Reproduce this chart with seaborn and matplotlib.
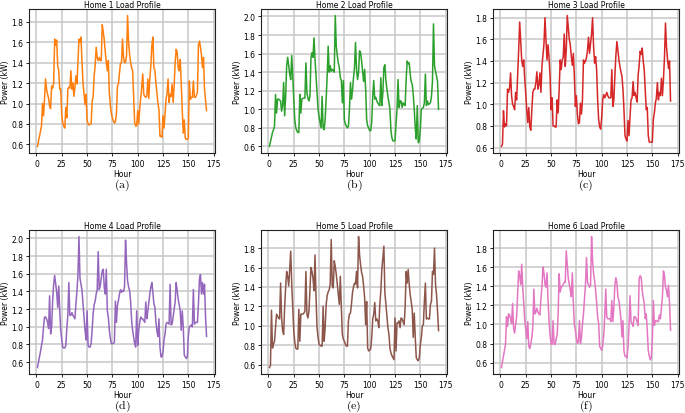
import numpy as np
import matplotlib
matplotlib.use("Agg")
import matplotlib.pyplot as plt
import seaborn as sns
from matplotlib.ticker import MultipleLocator

# hourly load (kW), one week
hours = np.arange(1, 169)

home1 = [
    0.58, 0.63, 0.68, 0.73, 0.78, 1.00, 0.88, 1.05, 1.24, 1.14, 1.09, 1.05,
    0.97, 0.95, 1.17, 1.15, 1.20, 1.63, 1.57, 1.62, 1.37, 1.32, 1.14, 1.14,
    0.88, 0.81, 0.78, 0.76, 0.96, 0.86, 1.14, 1.16, 1.15, 1.32, 1.14, 1.20,
    1.07, 1.16, 1.27, 1.19, 1.42, 1.63, 1.60, 1.65, 1.40, 1.20, 1.10, 0.99,
    1.09, 0.84, 0.80, 0.79, 0.80, 0.80, 1.02, 1.07, 1.27, 1.37, 1.55, 1.45,
    1.42, 1.45, 1.42, 1.42, 1.77, 1.70, 1.62, 1.50, 1.40, 1.32, 1.42, 1.10,
    0.98, 0.90, 0.86, 0.83, 0.81, 0.82, 0.90, 1.17, 1.19, 1.30, 1.39, 1.40,
    1.63, 1.45, 1.40, 1.40, 1.47, 1.86, 1.60, 1.48, 1.40, 1.35, 1.32, 1.07,
    0.81, 0.78, 0.78, 0.93, 0.80, 0.95, 1.05, 1.16, 1.29, 1.09, 1.07, 1.06,
    1.07, 1.24, 1.05, 1.25, 1.37, 1.57, 1.65, 1.35, 1.32, 1.20, 1.10, 1.00,
    0.94, 0.68, 0.68, 0.67, 0.88, 0.76, 0.90, 1.04, 1.10, 1.24, 1.01, 1.09,
    1.07, 1.19, 1.01, 1.17, 1.40, 1.53, 1.50, 1.35, 1.32, 1.43, 1.20, 0.94,
    0.71, 0.84, 0.66, 0.65, 0.65, 0.66, 1.22, 1.04, 1.06, 1.06, 1.22, 1.06,
    1.06, 1.08, 1.11, 1.57, 1.61, 1.55, 1.47, 1.35, 1.45, 1.14, 1.04, 0.93,
]
home2 = [
    0.60, 0.65, 0.70, 0.75, 0.78, 0.82, 1.16, 0.96, 1.11, 1.11, 1.10, 1.09,
    0.98, 1.04, 1.29, 0.93, 1.14, 1.47, 1.56, 1.47, 1.38, 1.32, 1.58, 1.36,
    1.11, 0.89, 0.80, 0.77, 0.75, 0.75, 1.16, 0.96, 1.11, 1.12, 1.12, 1.12,
    1.50, 1.18, 1.12, 1.09, 1.14, 1.56, 1.61, 1.56, 1.77, 1.54, 1.36, 1.18,
    1.00, 0.92, 0.86, 0.80, 1.14, 0.80, 0.78, 0.89, 1.11, 1.36, 1.68, 1.40,
    1.47, 1.41, 1.43, 1.42, 1.40, 2.01, 1.68, 1.58, 1.50, 1.45, 1.34, 1.31,
    1.07, 1.31, 0.89, 0.84, 0.82, 0.80, 0.82, 1.00, 1.29, 1.11, 1.20, 1.34,
    1.45, 1.72, 1.43, 1.32, 1.40, 1.63, 1.61, 1.52, 1.41, 1.30, 1.43, 1.22,
    0.89, 0.82, 0.80, 0.77, 0.77, 0.86, 1.14, 1.31, 1.11, 1.13, 1.09, 1.07,
    1.05, 1.04, 1.34, 1.04, 1.18, 1.45, 1.48, 1.31, 1.22, 1.14, 1.07, 1.00,
    0.77, 0.69, 0.66, 0.66, 0.66, 0.84, 1.00, 1.32, 1.02, 1.09, 1.09, 1.02,
    1.07, 1.05, 1.04, 1.32, 1.52, 1.49, 1.50, 1.38, 1.30, 1.27, 1.16, 1.00,
    0.80, 0.68, 1.04, 0.64, 0.66, 0.78, 1.00, 1.01, 1.02, 1.07, 1.38, 1.04,
    1.09, 1.05, 1.06, 1.07, 1.14, 1.30, 1.92, 1.47, 1.41, 1.36, 1.30, 1.00,
]
home3 = [
    0.61, 0.63, 0.94, 0.79, 0.82, 0.80, 1.14, 1.11, 1.15, 1.29, 1.08, 1.00,
    0.98, 0.95, 1.11, 1.04, 1.26, 1.50, 1.76, 1.59, 1.41, 1.35, 1.41, 1.23,
    1.10, 0.95, 0.83, 0.97, 0.79, 0.76, 0.95, 1.11, 1.14, 1.14, 1.20, 1.30,
    1.14, 1.18, 1.29, 1.11, 1.35, 1.45, 1.56, 1.80, 1.59, 1.41, 1.55, 1.43,
    1.26, 0.95, 1.06, 0.80, 0.80, 0.79, 0.79, 1.04, 0.92, 1.14, 1.41, 1.32,
    1.41, 1.43, 1.65, 1.35, 1.50, 1.82, 1.71, 1.60, 1.55, 1.44, 1.36, 1.47,
    1.26, 0.98, 1.08, 0.91, 0.82, 0.83, 1.01, 0.91, 1.04, 1.41, 1.38, 1.40,
    1.43, 1.50, 1.62, 1.47, 1.56, 1.65, 1.80, 1.53, 1.38, 1.44, 1.32, 1.04,
    0.86, 0.79, 0.77, 0.88, 1.04, 1.09, 1.06, 1.08, 1.11, 1.08, 1.06, 1.06,
    1.06, 1.32, 0.98, 1.04, 1.26, 1.45, 1.58, 1.50, 1.41, 1.35, 1.30, 1.26,
    1.14, 0.95, 0.71, 0.68, 0.66, 0.85, 0.71, 0.89, 1.04, 1.06, 1.21, 1.08,
    1.11, 1.06, 1.02, 1.27, 1.36, 1.49, 1.46, 1.52, 1.40, 1.32, 1.14, 0.95,
    0.97, 0.71, 0.65, 0.65, 0.65, 0.65, 0.86, 0.92, 1.01, 1.06, 1.20, 1.04,
    1.11, 1.08, 1.24, 1.08, 1.23, 1.43, 1.75, 1.53, 1.42, 1.33, 1.40, 1.03,
]
home4 = [
    0.54, 0.60, 0.66, 0.72, 0.79, 0.85, 1.00, 1.11, 1.11, 1.09, 1.05, 0.98,
    1.35, 0.92, 1.00, 1.29, 1.48, 1.58, 1.48, 1.39, 1.22, 1.46, 1.18, 0.96,
    0.85, 0.77, 0.76, 0.76, 0.79, 0.98, 1.13, 1.50, 1.13, 1.13, 1.16, 1.13,
    1.11, 1.09, 1.26, 1.40, 1.59, 2.02, 1.55, 1.48, 1.41, 1.26, 1.11, 0.96,
    0.85, 1.18, 0.79, 0.77, 0.77, 0.81, 0.96, 1.15, 1.25, 1.29, 1.37, 1.42,
    1.85, 1.42, 1.46, 1.55, 1.63, 1.65, 1.44, 1.37, 1.65, 1.18, 1.11, 0.96,
    0.87, 0.81, 0.81, 0.81, 0.83, 1.29, 1.05, 1.24, 1.30, 1.37, 1.42, 1.39,
    1.41, 1.40, 1.45, 1.98, 1.72, 1.52, 1.45, 1.41, 1.29, 1.07, 0.96, 0.88,
    0.81, 0.77, 1.18, 0.79, 0.96, 1.05, 1.11, 1.09, 1.09, 1.07, 1.05, 1.28,
    1.09, 1.18, 1.28, 1.37, 1.45, 1.50, 1.39, 1.26, 1.22, 1.05, 0.95, 0.89,
    1.09, 0.77, 0.66, 0.66, 0.72, 0.85, 0.92, 1.03, 1.05, 1.04, 1.03, 1.48,
    1.02, 1.03, 1.11, 1.20, 1.28, 1.50, 1.41, 1.31, 1.25, 1.18, 0.96, 1.18,
    1.00, 0.68, 0.66, 0.64, 0.66, 0.89, 1.00, 1.01, 1.02, 1.00, 1.42, 1.03,
    1.05, 1.05, 1.05, 1.26, 1.54, 1.59, 1.37, 1.50, 1.37, 1.48, 1.11, 0.89,
]
home5 = [
    0.57, 0.59, 1.16, 0.77, 0.81, 0.84, 0.98, 1.12, 1.10, 1.08, 1.07, 1.44,
    1.08, 0.95, 0.91, 1.19, 1.40, 1.56, 1.51, 1.41, 1.58, 1.77, 1.43, 1.19,
    0.95, 0.83, 0.77, 0.76, 0.76, 1.17, 0.84, 1.12, 1.12, 1.12, 1.13, 1.15,
    1.56, 1.12, 1.08, 1.15, 1.37, 1.60, 1.56, 1.49, 1.36, 1.73, 1.29, 0.98,
    0.88, 0.81, 0.80, 0.79, 0.79, 1.20, 0.84, 0.98, 1.22, 1.31, 1.35, 1.37,
    1.43, 1.89, 1.41, 1.39, 1.67, 1.61, 1.53, 1.43, 1.32, 1.22, 1.51, 1.19,
    0.91, 0.86, 0.84, 0.81, 0.79, 0.79, 1.05, 1.12, 1.13, 1.22, 1.34, 1.40,
    1.44, 1.43, 1.56, 1.39, 1.92, 1.73, 1.63, 1.55, 1.51, 1.41, 1.29, 1.01,
    1.25, 0.77, 0.74, 0.75, 0.76, 0.88, 1.07, 1.12, 1.24, 1.05, 1.07, 1.05,
    0.98, 1.22, 1.36, 1.58, 1.70, 1.82, 1.34, 1.22, 1.10, 0.98, 0.91, 0.77,
    0.72, 0.69, 0.67, 0.65, 1.08, 0.74, 1.03, 1.03, 1.05, 0.98, 1.08, 1.07,
    1.04, 1.01, 1.19, 1.56, 1.44, 1.58, 1.43, 1.32, 1.25, 1.17, 0.88, 1.13,
    0.88, 0.67, 0.65, 0.64, 0.67, 0.80, 0.88, 1.00, 1.01, 1.25, 1.44, 1.07,
    1.08, 1.07, 1.07, 1.22, 1.25, 1.56, 1.53, 1.80, 1.43, 1.32, 1.15, 0.95,
]
home6 = [
    0.55, 0.61, 0.67, 0.73, 0.79, 1.08, 0.98, 1.11, 1.10, 1.06, 1.01, 1.22,
    0.96, 0.91, 1.00, 1.08, 1.32, 1.56, 1.51, 1.42, 1.63, 1.39, 1.22, 1.05,
    0.95, 0.85, 1.03, 0.77, 0.75, 0.80, 0.86, 0.98, 1.37, 1.11, 1.13, 1.17,
    1.13, 1.11, 1.10, 1.27, 1.39, 1.60, 1.54, 1.42, 1.39, 1.54, 1.25, 1.04,
    0.89, 0.80, 0.79, 1.04, 0.80, 0.79, 0.85, 0.89, 1.11, 1.53, 1.34, 1.39,
    1.40, 1.42, 1.44, 1.44, 1.77, 1.63, 1.48, 1.42, 1.36, 1.29, 1.54, 1.22,
    1.00, 0.94, 0.86, 0.80, 0.82, 1.04, 0.80, 0.86, 1.00, 1.11, 1.27, 1.42,
    1.70, 1.44, 1.42, 1.39, 1.41, 1.92, 1.67, 1.53, 1.46, 1.36, 1.22, 1.08,
    1.01, 0.77, 0.75, 0.73, 0.77, 0.89, 1.08, 1.37, 1.08, 1.06, 1.06, 1.06,
    1.03, 1.25, 1.03, 1.17, 1.41, 1.49, 1.44, 1.29, 1.25, 1.15, 1.06, 0.87,
    1.04, 0.72, 0.67, 0.66, 0.65, 0.77, 0.98, 1.30, 1.03, 1.01, 0.98, 1.08,
    1.08, 1.06, 1.03, 0.99, 1.48, 1.51, 1.49, 1.36, 1.28, 1.22, 1.06, 1.11,
    0.94, 0.73, 0.67, 0.63, 0.65, 0.84, 1.25, 0.99, 1.04, 1.04, 1.03, 1.03,
    1.10, 1.06, 1.18, 1.29, 1.56, 1.51, 1.39, 1.36, 1.29, 1.41, 1.22, 0.94,
]

profiles = [home1, home2, home3, home4, home5, home6]
titles = [f"Home {i} Load Profile" for i in range(1, 7)]
captions = ["(a)", "(b)", "(c)", "(d)", "(e)", "(f)"]
colors = ["tab:orange", "tab:green", "tab:red", "tab:purple", "tab:brown", "tab:pink"]

for p in profiles:
    assert len(p) == len(hours)

plt.rcParams["mathtext.fontset"] = "cm"
plt.rcParams["font.family"] = "DejaVu Sans"

W, H = 685, 414
fig = plt.figure(figsize=(W / 100, H / 100), dpi=100)

# axes boxes in pixels: left, right, top, bottom
col_x = [(29, 215), (261, 447), (493, 679)]
row_y = [(10, 154), (231, 375)]
cap_y = [185, 406]
fs = 5.5

for i, vals in enumerate(profiles):
    r, c = divmod(i, 3)
    x0, x1 = col_x[c]
    y0, y1 = row_y[r]
    ax = fig.add_axes([x0 / W, 1 - y1 / H, (x1 - x0) / W, (y1 - y0) / H])
    sns.lineplot(x=hours, y=vals, ax=ax, color=colors[i], linewidth=1.1)
    ax.grid(True, color="#c8c8c8", linewidth=1.1)
    ax.set_axisbelow(True)
    ax.xaxis.set_major_locator(MultipleLocator(25))
    ax.yaxis.set_major_locator(MultipleLocator(0.2))
    ax.set_xlim(hours[0] - 8.35, hours[-1] + 8.35)
    ax.set_title(titles[i], fontsize=fs, pad=1.5)
    ax.set_xlabel("Hour", fontsize=fs, labelpad=0.8)
    ax.set_ylabel("Power (kW)", fontsize=fs, labelpad=1)
    ax.tick_params(labelsize=fs, length=2.5, width=0.6, pad=1.5)
    for s in ax.spines.values():
        s.set_linewidth(0.8)
        s.set_color("#222222")
    fig.text((x0 + x1) / 2 / W, 1 - cap_y[r] / H, r"$\mathrm{" + captions[i] + "}$",
             ha="center", va="center", fontsize=8.5)

fig.savefig("out.png", dpi=100)
